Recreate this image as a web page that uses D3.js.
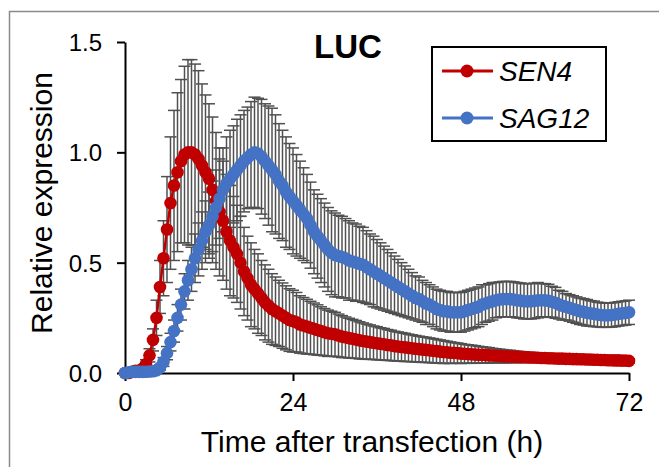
<!DOCTYPE html>
<html>
<head>
<meta charset="utf-8">
<script src="https://cdn.jsdelivr.net/npm/d3@7"></script>
<style>
  html, body { margin: 0; padding: 0; background: #fff; }
  svg { display: block; }
  text { font-family: "Liberation Sans", Arial, sans-serif; }
</style>
</head>
<body>
<svg id="chart" width="659" height="467"></svg>
<script>
// ---------------- DATA ----------------
const title = "LUC";
const xLabel = "Time after transfection (h)";
const yLabel = "Relative expression";
const seriesNames = ["SEN4", "SAG12"];
const xTicks = [0, 24, 48, 72];
const yTicks = [0, 0.5, 1.0, 1.5];
const timeStepHours = 0.5; // one reading every 30 min, 0–72 h

// SEN4 mean (t = 0, 0.5, 1, ... 72 h)
const sen4Mean = [
  0.00,0.00,0.005,0.01,0.01,0.02,0.04,0.08,0.15,0.25,
  0.39,0.52,0.65,0.77,0.85,0.91,0.96,0.99,1.00,1.00,
  0.99,0.97,0.94,0.91,0.88,0.83,0.78,0.73,0.69,0.64,
  0.60,0.57,0.54,0.50,0.46,0.43,0.40,0.38,0.36,0.34,
  0.32,0.305,0.29,0.28,0.27,0.26,0.25,0.24,0.235,0.23,
  0.22,0.215,0.21,0.205,0.20,0.195,0.19,0.185,0.18,0.178,
  0.175,0.17,0.165,0.162,0.158,0.155,0.152,0.148,0.145,0.142,
  0.14,0.137,0.135,0.132,0.13,0.127,0.125,0.122,0.12,0.118,
  0.116,0.114,0.112,0.11,0.108,0.106,0.105,0.103,0.101,0.099,
  0.097,0.095,0.094,0.092,0.091,0.09,0.088,0.087,0.086,0.085,
  0.084,0.083,0.082,0.081,0.08,0.079,0.078,0.077,0.076,0.075,
  0.075,0.074,0.073,0.072,0.072,0.071,0.07,0.07,0.069,0.068,
  0.068,0.067,0.067,0.066,0.065,0.065,0.064,0.064,0.063,0.063,
  0.062,0.062,0.061,0.061,0.06,0.06,0.059,0.059,0.058,0.058,
  0.057,0.057,0.056,0.056,0.055
];
// SEN4 error (±)
const sen4Err = [
  0.005,0.005,0.005,0.008,0.01,0.012,0.02,0.03,0.05,0.08,
  0.12,0.17,0.24,0.30,0.34,0.36,0.37,0.40,0.42,0.42,
  0.41,0.40,0.37,0.35,0.34,0.33,0.31,0.29,0.27,0.26,
  0.25,0.23,0.22,0.21,0.20,0.19,0.19,0.18,0.18,0.17,
  0.17,0.165,0.16,0.155,0.15,0.148,0.145,0.142,0.14,0.135,
  0.13,0.127,0.124,0.12,0.117,0.114,0.11,0.107,0.105,0.102,
  0.1,0.097,0.095,0.092,0.09,0.088,0.086,0.084,0.082,0.08,
  0.078,0.076,0.075,0.073,0.072,0.07,0.069,0.067,0.066,0.065,
  0.064,0.062,0.061,0.06,0.059,0.058,0.057,0.056,0.055,0.054,
  0.053,0.052,0.05,0.049,0.047,0.046,0.045,0.043,0.042,0.041,
  0.04,0.038,0.037,0.036,0.035,0.033,0.032,0.031,0.03,0.029,
  0.028,0.027,0.026,0.025,0.024,0.023,0.022,0.022,0.021,0.02,
  0.02,0.019,0.019,0.018,0.018,0.017,0.017,0.016,0.016,0.015,
  0.015,0.015,0.014,0.014,0.014,0.013,0.013,0.013,0.012,0.012,
  0.012,0.011,0.011,0.011,0.01
];
// SAG12 mean
const sag12Mean = [
  0.00,0.003,0.005,0.005,0.005,0.005,0.006,0.007,0.008,0.012,
  0.025,0.05,0.09,0.14,0.19,0.25,0.31,0.37,0.42,0.47,
  0.52,0.56,0.60,0.64,0.67,0.71,0.75,0.79,0.83,0.86,
  0.88,0.90,0.92,0.94,0.96,0.975,0.99,1.00,0.995,0.98,
  0.96,0.94,0.92,0.90,0.87,0.85,0.82,0.80,0.78,0.76,
  0.74,0.72,0.70,0.67,0.64,0.62,0.60,0.58,0.56,0.545,
  0.535,0.53,0.525,0.52,0.51,0.505,0.50,0.495,0.49,0.48,
  0.47,0.46,0.45,0.44,0.43,0.42,0.41,0.40,0.39,0.38,
  0.37,0.36,0.35,0.34,0.335,0.325,0.315,0.31,0.30,0.29,
  0.285,0.28,0.28,0.275,0.275,0.275,0.275,0.28,0.285,0.29,
  0.295,0.30,0.31,0.315,0.32,0.325,0.33,0.333,0.335,0.335,
  0.335,0.333,0.33,0.328,0.325,0.325,0.325,0.327,0.33,0.33,
  0.33,0.327,0.323,0.318,0.31,0.305,0.30,0.295,0.29,0.285,
  0.28,0.277,0.273,0.27,0.268,0.265,0.263,0.262,0.262,0.263,
  0.265,0.268,0.27,0.272,0.275
];
// SAG12 error (±)
const sag12Err = [
  0.002,0.003,0.004,0.004,0.004,0.004,0.005,0.005,0.006,0.008,
  0.012,0.02,0.03,0.04,0.05,0.06,0.07,0.08,0.09,0.10,
  0.11,0.12,0.13,0.14,0.15,0.16,0.17,0.18,0.19,0.21,
  0.22,0.22,0.23,0.23,0.23,0.23,0.24,0.25,0.25,0.26,
  0.26,0.27,0.28,0.27,0.26,0.25,0.25,0.24,0.24,0.23,
  0.22,0.21,0.2,0.195,0.19,0.19,0.19,0.19,0.19,0.19,
  0.19,0.185,0.185,0.18,0.18,0.175,0.175,0.17,0.17,0.165,
  0.16,0.16,0.155,0.15,0.145,0.14,0.135,0.13,0.125,0.12,
  0.115,0.11,0.105,0.1,0.1,0.095,0.095,0.09,0.09,0.09,
  0.09,0.09,0.09,0.09,0.09,0.09,0.09,0.09,0.09,0.09,
  0.09,0.09,0.09,0.085,0.085,0.085,0.08,0.08,0.08,0.08,
  0.08,0.08,0.08,0.08,0.08,0.08,0.08,0.08,0.08,0.075,
  0.075,0.075,0.07,0.07,0.065,0.065,0.06,0.06,0.06,0.06,
  0.06,0.06,0.06,0.058,0.058,0.056,0.056,0.055,0.055,0.055,
  0.055,0.055,0.055,0.055,0.055
];

// ---------------- CHART ----------------
const svg = d3.select("#chart");
const colors = ["#C00000", "#4472C4"];
const errColor = "#505050";

const x = d3.scaleLinear().domain([0, 72]).range([125, 629]);
const y = d3.scaleLinear().domain([0, 1.5]).range([373, 42]);

// outer frame
svg.append("rect").attr("x", 9.5).attr("y", 11.5).attr("width", 700).attr("height", 520)
  .attr("fill", "none").attr("stroke", "#8a8a8a").attr("stroke-width", 1.5);

const series = [
  { name: seriesNames[0], mean: sen4Mean, err: sen4Err, color: colors[0] },
  { name: seriesNames[1], mean: sag12Mean, err: sag12Err, color: colors[1] }
].map(s => ({ ...s, pts: s.mean.map((v, i) => ({ t: i * timeStepHours, v, e: s.err[i] })) }));

// axes
const yAxis = d3.axisLeft(y).tickValues(yTicks).tickFormat(d3.format(".1f")).tickSize(8).tickSizeOuter(0);
const gy = svg.append("g").attr("transform", `translate(${x(0)},0)`).call(yAxis);
gy.select(".domain").attr("stroke", "#000").attr("stroke-width", 2);
gy.selectAll(".tick line").attr("stroke", "#000").attr("stroke-width", 2);
gy.selectAll(".tick text").attr("font-size", 24).attr("fill", "#000").attr("x", -23)
  .attr("dy", "0.36em").style("font-family", "'Liberation Sans', Arial, sans-serif");

const xAxis = d3.axisBottom(x).tickValues(xTicks).tickFormat(d3.format("d")).tickSize(8).tickSizeOuter(0);
const gx = svg.append("g").attr("transform", `translate(0,${y(0)})`).call(xAxis);
gx.select(".domain").attr("stroke", "#000").attr("stroke-width", 2);
gx.selectAll(".tick line").attr("stroke", "#000").attr("stroke-width", 2);
gx.selectAll(".tick text").attr("font-size", 25).attr("fill", "#000").attr("y", 20)
  .attr("dy", "0.71em").style("font-family", "'Liberation Sans', Arial, sans-serif");

// error bars
const capHalf = 6;
series.forEach(s => {
  const g = svg.append("g").attr("stroke", errColor).attr("stroke-width", 1.5).attr("fill", "none");
  g.selectAll("line.stem").data(s.pts).join("line").attr("class", "stem")
    .attr("x1", d => x(d.t)).attr("x2", d => x(d.t))
    .attr("y1", d => y(d.v + d.e)).attr("y2", d => y(Math.max(d.v - d.e, -0.02)));
  g.selectAll("line.capTop").data(s.pts).join("line").attr("class", "capTop")
    .attr("x1", d => x(d.t) - capHalf).attr("x2", d => x(d.t) + capHalf)
    .attr("y1", d => y(d.v + d.e)).attr("y2", d => y(d.v + d.e));
  g.selectAll("line.capBot").data(s.pts).join("line").attr("class", "capBot")
    .attr("x1", d => x(d.t) - capHalf).attr("x2", d => x(d.t) + capHalf)
    .attr("y1", d => y(d.v - d.e)).attr("y2", d => y(d.v - d.e));
});

// lines + markers
const line = d3.line().x(d => x(d.t)).y(d => y(d.v));
series.forEach(s => {
  svg.append("path").datum(s.pts).attr("d", line).attr("fill", "none")
    .attr("stroke", s.color).attr("stroke-width", 2.5);
  svg.append("g").selectAll("circle").data(s.pts).join("circle")
    .attr("cx", d => x(d.t)).attr("cy", d => y(d.v)).attr("r", 6.3).attr("fill", s.color);
});

// title
svg.append("text").attr("x", 348).attr("y", 58).attr("text-anchor", "middle")
  .attr("font-size", 33).attr("font-weight", "bold").attr("fill", "#000").text(title);

// axis titles
svg.append("text").attr("x", 372).attr("y", 452).attr("text-anchor", "middle")
  .attr("font-size", 30).attr("fill", "#000").text(xLabel);
svg.append("text").attr("transform", "translate(52,203) rotate(-90)").attr("text-anchor", "middle")
  .attr("font-size", 30).attr("fill", "#000").text(yLabel);

// legend
const lg = svg.append("g");
lg.append("rect").attr("x", 432).attr("y", 47).attr("width", 174).attr("height", 94)
  .attr("fill", "#fff").attr("stroke", "#000").attr("stroke-width", 2);
series.forEach((s, i) => {
  const cy = 71 + i * 47;
  lg.append("line").attr("x1", 442).attr("x2", 493).attr("y1", cy).attr("y2", cy)
    .attr("stroke", s.color).attr("stroke-width", 3);
  lg.append("circle").attr("cx", 467).attr("cy", cy).attr("r", 6.5).attr("fill", s.color);
  lg.append("text").attr("x", 499).attr("y", cy + 10).attr("font-size", 28)
    .attr("font-style", "italic").attr("fill", "#000").text(s.name);
});
</script>
</body>
</html>
